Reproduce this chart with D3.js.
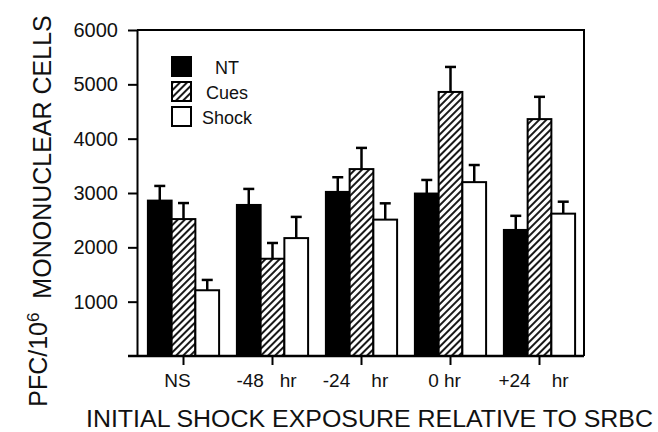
<!DOCTYPE html>
<html>
<head>
<meta charset="utf-8">
<script src="https://cdn.jsdelivr.net/npm/d3@7"></script>
<style>
  body { margin: 0; background: #fff; }
  svg { font-family: "Liberation Sans", Arial, sans-serif; }
  .tick text { white-space: pre; }
</style>
</head>
<body>
<script>
// data
var groups = ["NS", "-48 hr", "-24 hr", "0 hr", "+24 hr"];
var tickLabels = ["NS", "-48   hr", "-24    hr", "0 hr", "+24    hr"];
var series = ["NT", "Cues", "Shock"];
var ntMeans = [2860, 2780, 3020, 2990, 2320];
var ntSem = [270, 295, 270, 250, 260];
var cuesMeans = [2520, 1790, 3440, 4860, 4360];
var cuesSem = [295, 290, 390, 460, 410];
var shockMeans = [1210, 2170, 2510, 3200, 2620];
var shockSem = [190, 390, 300, 315, 220];
var yTicks = [1000, 2000, 3000, 4000, 5000, 6000];

var means = {NT: ntMeans, Cues: cuesMeans, Shock: shockMeans};
var sems = {NT: ntSem, Cues: cuesSem, Shock: shockSem};

var width = 658, height = 432;
var plot = {left: 137, right: 584, top: 30, bottom: 356};

var svg = d3.select("body").append("svg")
    .attr("width", width).attr("height", height);

// hatch for Cues
svg.append("defs").append("pattern")
    .attr("id", "hatch")
    .attr("patternUnits", "userSpaceOnUse")
    .attr("width", 5).attr("height", 5)
    .attr("patternTransform", "rotate(45)")
  .call(function(p){
    p.append("rect").attr("width", 5).attr("height", 5).attr("fill", "#fff");
    p.append("line").attr("x1", 1).attr("x2", 1).attr("y1", 0).attr("y2", 5)
      .attr("stroke", "#000").attr("stroke-width", 1.8);
  });

var fills = {NT: "#000", Cues: "url(#hatch)", Shock: "#fff"};

var y = d3.scaleLinear().domain([0, 6000]).range([plot.bottom, plot.top]);

var x0 = d3.scaleBand().domain(groups)
    .range([plot.left + 2, plot.right])
    .paddingInner(0.2).paddingOuter(0.1);

var x1 = d3.scaleBand().domain(series).range([0, x0.bandwidth()]);

var rows = [];
groups.forEach(function(g, i){
  series.forEach(function(s){
    rows.push({group: g, series: s, value: means[s][i], sem: sems[s][i]});
  });
});

// bars
svg.append("g").selectAll("rect")
  .data(rows).enter().append("rect")
    .attr("x", function(d){ return x0(d.group) + x1(d.series); })
    .attr("y", function(d){ return y(d.value); })
    .attr("width", x1.bandwidth())
    .attr("height", function(d){ return y(0) - y(d.value); })
    .attr("fill", function(d){ return fills[d.series]; })
    .attr("stroke", "#000").attr("stroke-width", 2);

// error bars
var err = svg.append("g").attr("stroke", "#000").attr("stroke-width", 2.5);
err.selectAll("line.v").data(rows).enter().append("line")
    .attr("class", "v")
    .attr("x1", function(d){ return x0(d.group) + x1(d.series) + x1.bandwidth()/2; })
    .attr("x2", function(d){ return x0(d.group) + x1(d.series) + x1.bandwidth()/2; })
    .attr("y1", function(d){ return y(d.value); })
    .attr("y2", function(d){ return y(d.value + d.sem); });
err.selectAll("line.c").data(rows).enter().append("line")
    .attr("class", "c")
    .attr("x1", function(d){ return x0(d.group) + x1(d.series) + x1.bandwidth()/2 - 5.5; })
    .attr("x2", function(d){ return x0(d.group) + x1(d.series) + x1.bandwidth()/2 + 5.5; })
    .attr("y1", function(d){ return y(d.value + d.sem); })
    .attr("y2", function(d){ return y(d.value + d.sem); });

// frame (top + right)
svg.append("path")
    .attr("d", "M" + plot.left + "," + y(6000) + "H" + plot.right + "V" + y(0))
    .attr("fill", "none").attr("stroke", "#000").attr("stroke-width", 2);

// y axis
var yAxis = d3.axisLeft(y).tickValues(yTicks).tickFormat(d3.format("d"))
    .tickSize(9).tickSizeOuter(0).tickPadding(10);
var gy = svg.append("g").attr("transform", "translate(" + plot.left + ",0)").call(yAxis);
gy.select(".domain").attr("stroke-width", 2);
gy.selectAll(".tick line").attr("stroke-width", 2);
gy.selectAll(".tick text").attr("font-size", 20).attr("fill", "#111")
    .style("font-family", "Liberation Sans, Arial, sans-serif");

// x axis
var xAxis = d3.axisBottom(x0).tickSize(9).tickSizeOuter(0).tickPadding(9)
    .tickFormat(function(d, i){ return tickLabels[i]; });
var gx = svg.append("g").attr("transform", "translate(0," + y(0) + ")").call(xAxis);
gx.select(".domain").remove();
gx.selectAll(".tick line").attr("stroke-width", 2);
gx.selectAll(".tick text").attr("font-size", 19).attr("fill", "#111").attr("dx", -6)
    .style("font-family", "Liberation Sans, Arial, sans-serif");

// bottom baseline extends past the y axis
svg.append("line")
    .attr("x1", plot.left - 9).attr("x2", plot.right)
    .attr("y1", y(0)).attr("y2", y(0))
    .attr("stroke", "#000").attr("stroke-width", 2.5);

// legend
var legend = svg.append("g").selectAll("g")
  .data(series).enter().append("g")
    .attr("transform", function(d, i){ return "translate(172," + (57 + i * 25) + ")"; });
legend.append("rect")
    .attr("width", 19).attr("height", 19)
    .attr("fill", function(d){ return fills[d]; })
    .attr("stroke", "#000").attr("stroke-width", 2);
legend.append("text")
    .attr("x", 55).attr("y", 17)
    .attr("text-anchor", "middle")
    .attr("font-size", 18).attr("fill", "#111")
    .text(function(d){ return d; });

// axis titles
svg.append("text")
    .attr("x", 86).attr("y", 427)
    .attr("font-size", 23).attr("fill", "#111")
    .attr("textLength", 567).attr("lengthAdjust", "spacingAndGlyphs")
    .text("INITIAL SHOCK EXPOSURE RELATIVE TO SRBC");

var yt = svg.append("text")
    .attr("transform", "translate(47,211) rotate(-90)")
    .attr("text-anchor", "middle")
    .attr("font-size", 25).attr("fill", "#111");
yt.append("tspan").text("PFC/10");
yt.append("tspan").attr("dy", "-0.45em").attr("font-size", 17).text("6");
yt.append("tspan").attr("dy", "0.45em").style("white-space", "pre").text("  MONONUCLEAR CELLS");
</script>
</body>
</html>
